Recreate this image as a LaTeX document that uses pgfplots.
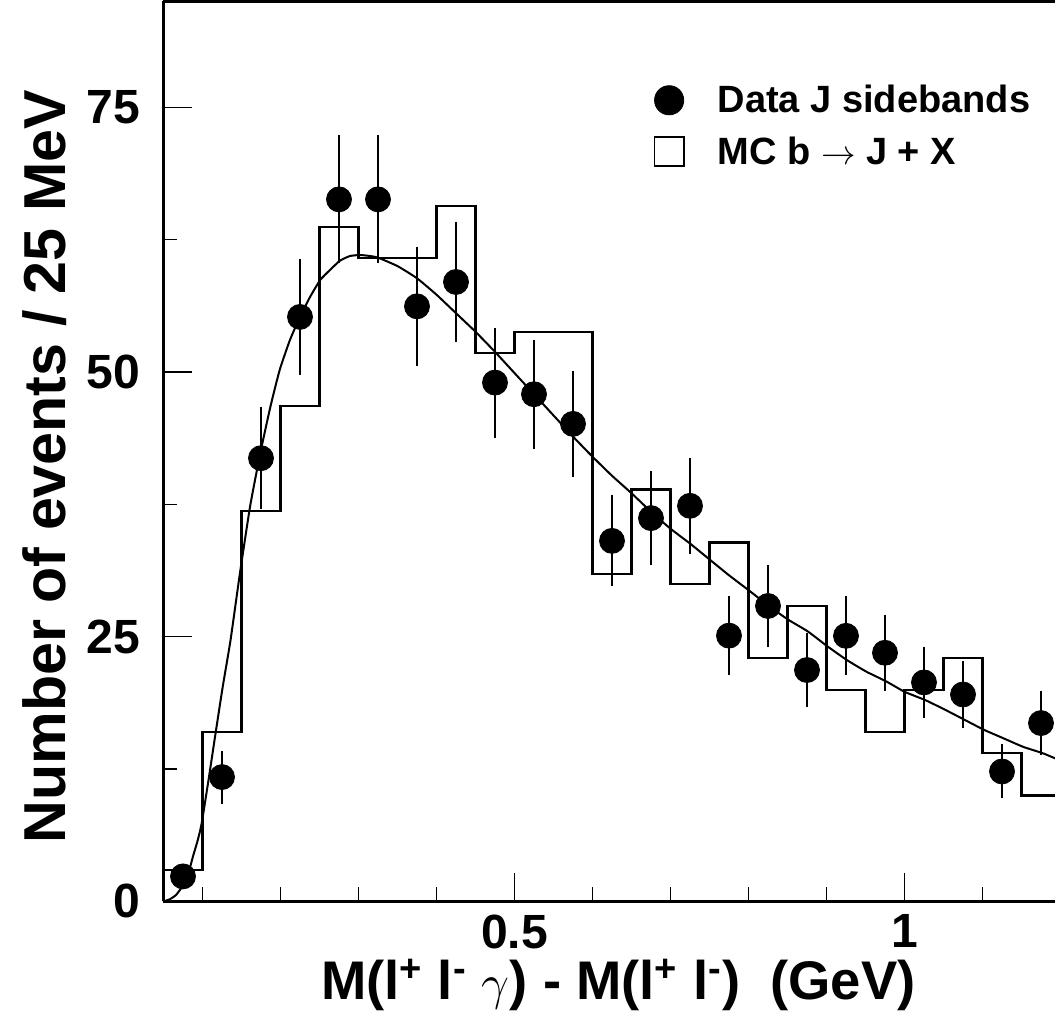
\documentclass[border=0pt]{standalone}
\usepackage{fontspec}
\setmainfont{Liberation Sans}
\usepackage{pgfplots}
\usepackage{pgfplotstable}
\pgfplotsset{compat=1.18}

\pgfplotstableread{
x y e
0.075 2.36 1.1
0.125 11.74 2.5
0.175 41.86 4.8
0.225 55.2 5.5
0.275 66.3 6.05
0.325 66.3 6.05
0.375 56.2 5.6
0.425 58.5 5.67
0.475 49.0 5.2
0.525 47.9 5.15
0.575 45.1 5.0
0.625 34.05 4.3
0.675 36.2 4.47
0.725 37.36 4.53
0.775 25.1 3.7
0.825 27.9 3.9
0.875 21.85 3.46
0.925 25.08 3.73
0.975 23.48 3.59
1.025 20.68 3.37
1.075 19.54 3.2
1.125 12.27 2.55
1.175 16.84 3.04
}\datatab

\pgfplotstableread{
x y
0.05 3.0
0.10 16.0
0.15 36.9
0.20 46.8
0.25 63.7
0.30 60.8
0.35 60.8
0.40 65.7
0.45 51.8
0.50 53.8
0.55 53.8
0.60 30.95
0.65 38.9
0.70 30.0
0.75 33.9
0.80 23.0
0.85 27.9
0.90 20.0
0.95 16.0
1.00 20.0
1.05 23.0
1.10 14.0
1.15 10.0
1.20 10.0
}\mctab

\pgfplotstableread{
x y
0.050 0.0
0.058 0.2
0.066 0.6
0.074 1.4
0.082 2.7
0.088 4.3
0.094 5.8
0.099 7.4
0.108 11.6
0.117 16.0
0.126 20.3
0.136 24.7
0.148 31.0
0.161 37.3
0.174 42.3
0.187 46.7
0.199 50.2
0.212 53.0
0.225 55.2
0.238 57.1
0.251 58.7
0.263 59.6
0.276 60.5
0.289 60.95
0.302 61.05
0.315 60.95
0.325 60.8
0.350 60.0
0.375 58.85
0.400 57.3
0.425 55.55
0.450 53.8
0.475 51.9
0.500 49.9
0.525 47.9
0.550 45.9
0.575 43.9
0.600 42.0
0.625 40.2
0.650 38.55
0.675 36.8
0.700 35.2
0.725 33.8
0.750 32.3
0.775 30.8
0.800 29.4
0.827 27.85
0.851 26.6
0.876 25.5
0.901 24.1
0.926 22.8
0.951 21.7
0.976 20.8
1.000 19.8
1.027 19.0
1.052 18.1
1.077 17.15
1.102 16.2
1.127 15.4
1.152 14.6
1.177 14.0
1.200 13.3
}\fittab

\begin{document}
\begin{tikzpicture}
\begin{axis}[
  scale only axis, width=448.5pt, height=450pt,
  xmin=0.05, xmax=1.2, ymin=0, ymax=85,
  axis x line*=box, axis y line*=left,
  axis line style={line width=1.5pt},
  xtick={0.5,1}, xticklabels={0.5,1},
  minor xtick={0.1,0.2,0.3,0.4,0.6,0.7,0.8,0.9,1.1},
  ytick={0,25,50,75}, yticklabels={0,25,50,75},
  minor ytick={12.5,37.5,62.5},
  tick align=inside, xtick pos=bottom, ytick pos=left,
  major tick length=14pt, minor tick length=7pt,
  every tick/.style={black, line width=0.65pt},
  tick label style={font=\fontsize{24}{24}\selectfont\bfseries},
  xticklabel style={anchor=north, inner sep=0pt, yshift=-6.5pt, text depth=0pt},
  yticklabel style={anchor=east, inner sep=0pt, xshift=-11.5pt},
  xlabel={M(l\textsuperscript{+} l\textsuperscript{-} $\gamma$) - M(l\textsuperscript{+} l\textsuperscript{-})\ \ (GeV)},
  ylabel={Number of events / 25 MeV},
  xlabel style={font=\fontsize{27.2}{27.2}\selectfont\bfseries, at={(axis description cs:0.507,-0.0925)}, anchor=center, inner sep=0pt},
  ylabel style={font=\fontsize{29.6}{29.6}\selectfont\bfseries, at={(axis description cs:-0.132,0.483)}, anchor=center, inner sep=0pt},
  legend style={at={(axis description cs:0.546,0.912)}, anchor=north west, draw=none, fill=none,
     font=\fontsize{19}{19}\selectfont\bfseries, row sep=6.5pt, inner sep=0pt,
     /tikz/every odd column/.append style={column sep=14.5pt}},
  legend cell align=left,
]
\addlegendimage{legend image code/.code={\fill[black] (0.3cm,0) circle (7.3pt);}}
\addlegendentry{Data J sidebands}
\addlegendimage{legend image code/.code={\draw[line width=0.9pt] (0.3cm-7.3pt,-7.3pt) rectangle (0.3cm+7.3pt,7.3pt);}}
\addlegendentry{MC b $\rightarrow$ J + X}

\addplot[const plot, black, line width=1.1pt, forget plot] table[x=x,y=y] {\mctab};
\addplot[black, line width=1pt, smooth, tension=0.3, forget plot] table[x=x,y=y] {\fittab};
\addplot[only marks, mark=*, mark size=6.25pt, black, forget plot,
  error bars/.cd, y dir=both, y explicit, error mark=none,
  error bar style={line width=1.3pt, black}]
  table[x=x,y=y,y error=e] {\datatab};
\end{axis}
\pgfresetboundingbox
\path ([xshift=-81.75pt, yshift=-62.15pt]current axis.south west) rectangle ([xshift=-2.75pt, yshift=0.7pt]current axis.north east);
\end{tikzpicture}
\end{document}
